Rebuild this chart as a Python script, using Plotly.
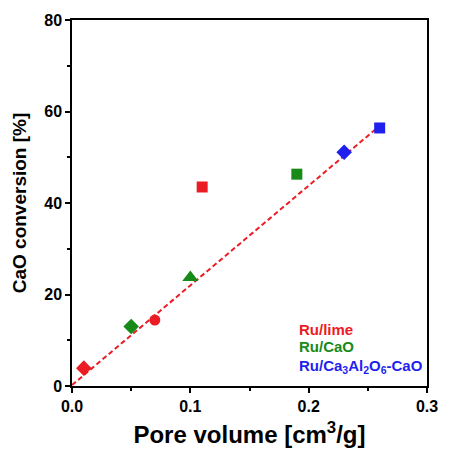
import plotly.graph_objects as go

# Data
lime_x = [0.01, 0.07, 0.11]
lime_y = [3.9, 14.4, 43.5]
lime_sym = ["diamond", "circle", "square"]
cao_x = [0.05, 0.10, 0.19]
cao_y = [13.0, 23.7, 46.3]
cao_sym = ["diamond", "triangle-up", "square"]
caal_x = [0.23, 0.26]
caal_y = [51.1, 56.4]
caal_sym = ["diamond", "square"]
fit_x = [0.0, 0.262]
fit_y = [0.2, 57.3]
legend_labels = ["Ru/lime", "Ru/CaO", "Ru/Ca<sub>3</sub>Al<sub>2</sub>O<sub>6</sub>-CaO"]
legend_y = [12.3, 8.6, 4.3]

RED = "#ec1c24"
GREEN = "#178a17"
BLUE = "#1f1fee"
FONT = "Liberation Sans, Arial, sans-serif"

fig = go.Figure()
fig.add_trace(go.Scatter(x=fit_x, y=fit_y, mode="lines",
                         line=dict(color=RED, width=2, dash="5px,3px"), showlegend=False))

def sizes(syms):
    return [12 if s == "diamond" else (14 if s == "triangle-up" else 11) for s in syms]

for xs, ys, syms, col in [(lime_x, lime_y, lime_sym, RED), (cao_x, cao_y, cao_sym, GREEN),
                          (caal_x, caal_y, caal_sym, BLUE)]:
    fig.add_trace(go.Scatter(x=xs, y=ys, mode="markers",
                             marker=dict(symbol=syms, size=sizes(syms), color=col, opacity=1,
                                         line=dict(width=0)),
                             showlegend=False))

for lab, yy, col in zip(legend_labels, legend_y, [RED, GREEN, BLUE]):
    fig.add_annotation(x=0.19, y=yy, xref="x", yref="y", text=lab, showarrow=False,
                       xanchor="left", yanchor="middle",
                       font=dict(family=FONT, size=15, color=col, weight="bold"))

axis_common = dict(showline=True, linecolor="black", linewidth=1.5, mirror=True,
                   ticks="outside", ticklen=5, tickwidth=1.5, tickcolor="black",
                   showgrid=False, zeroline=False,
                   tickfont=dict(family=FONT, size=16, color="black", weight="bold"))

fig.update_xaxes(range=[0, 0.3], dtick=0.1, tick0=0, tickformat=".1f",
                 minor=dict(ticks="outside", dtick=0.05, ticklen=3, tickwidth=1.5, tickcolor="black"),
                 title=dict(text="Pore volume [cm<sup>3</sup>/g]", standoff=12,
                            font=dict(family=FONT, size=24, color="black", weight="bold")),
                 **axis_common)
fig.update_yaxes(range=[0, 80], dtick=20, tick0=0,
                 minor=dict(ticks="outside", dtick=10, ticklen=3, tickwidth=1.5, tickcolor="black"),
                 title=dict(text="CaO conversion [%]", standoff=13,
                            font=dict(family=FONT, size=19, color="black", weight="bold")),
                 **axis_common)

fig.update_layout(width=450, height=456, margin=dict(l=72, r=14, t=16, b=69),
                  plot_bgcolor="white", paper_bgcolor="white")

fig.write_html("out.html")
